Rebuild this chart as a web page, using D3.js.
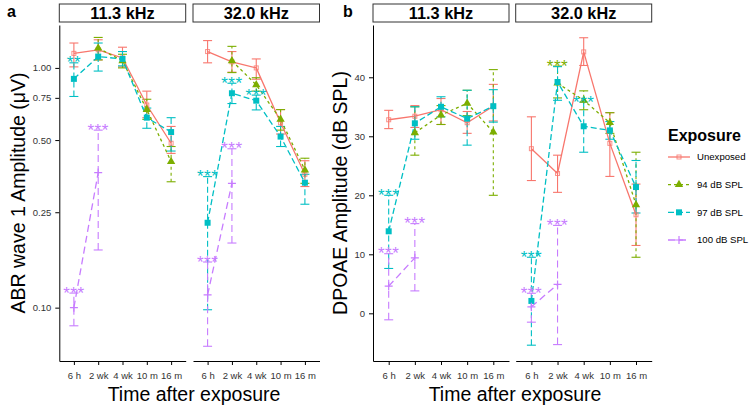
<!DOCTYPE html>
<html><head><meta charset="utf-8">
<script src="https://cdn.jsdelivr.net/npm/d3@7"></script>
<style>body{margin:0;background:#fff;} svg text{font-family:"Liberation Sans",Arial,Helvetica,sans-serif;}</style>
</head><body><svg id="c" width="749" height="407"></svg>
<script>
const times = ["6 h","2 wk","4 wk","10 m","16 m"];
const exposures = ["Unexposed","94 dB SPL","97 dB SPL","100 dB SPL"];
const frequencies = ["11.3 kHz","32.0 kHz"];
const abrTicks = [0.10,0.25,0.50,0.75,1.00];
const dpoaeTicks = [0,10,20,30,40];

// [mean, lower, upper] per time point; null = not measured
const abr11Unexposed = [[1.15,1.01,1.27],[1.19,1.08,1.31],[1.10,1.01,1.22],[0.70,0.62,0.80],[0.485,0.44,0.57]];
const abr11Db94      = [null,[1.21,1.08,1.34],[1.07,1.00,1.14],[0.67,0.61,0.74],[0.407,0.335,0.47]];
const abr11Db97      = [[0.90,0.76,1.05],[1.115,0.97,1.27],[1.09,1.02,1.17],[0.62,0.56,0.68],[0.54,0.45,0.62]];
const abr11Db100     = [[0.10,0.084,0.115],[0.366,0.174,0.55],null,null,null];

const abr32Unexposed = [[1.17,1.05,1.30],[1.06,0.96,1.17],[1.00,0.897,1.09],[0.59,0.53,0.67],[0.36,0.32,0.41]];
const abr32Db94      = [null,[1.07,0.956,1.23],[0.85,0.80,0.91],[0.61,0.55,0.67],[0.375,0.33,0.42]];
const abr32Db97      = [[0.226,0.098,0.352],[0.784,0.71,0.863],[0.73,0.668,0.77],[0.517,0.47,0.57],[0.332,0.27,0.36]];
const abr32Db100     = [[0.113,0.069,0.155],[0.33,0.186,0.46],null,null,null];

const dp11Unexposed = [[32.8,31.3,34.4],[33.4,31.5,35.2],[34.5,32.0,36.4],[32.3,30.5,34.2],[35.1,32.6,38.8]];
const dp11Db94      = [null,[30.6,26.8,35.0],[33.6,32.0,35.2],[35.6,33.5,37.8],[30.7,20.0,41.3]];
const dp11Db97      = [[13.9,7.6,20.0],[32.2,29.5,35.0],[35.0,33.3,36.7],[33.0,28.5,37.8],[35.1,32.4,37.9]];
const dp11Db100     = [[4.6,-1.1,10.1],[9.4,3.8,15.2],null,null,null];

const dp32Unexposed = [[27.9,22.5,33.3],[23.7,20.5,26.8],[44.3,42.0,46.7],[28.8,23.2,34.0],[16.7,11.5,21.9]];
const dp32Db94      = [null,[39.0,36.5,41.9],[36.1,34.5,37.7],[32.3,30.5,34.0],[18.4,9.5,27.3]];
const dp32Db97      = [[2.1,-5.4,9.5],[39.2,36.1,41.8],[31.7,27.3,35.8],[31.0,29.5,32.5],[21.4,17.0,25.9]];
const dp32Db100     = [[1.1,-1.5,3.4],[4.9,-5.3,14.9],null,null,null];

// significance markers: [exposure, time, label]
const abr11Stars = [["97 dB SPL","6 h","**"],["100 dB SPL","6 h","***"],["100 dB SPL","2 wk","***"]];
const abr32Stars = [["97 dB SPL","6 h","***"],["97 dB SPL","2 wk","***"],["97 dB SPL","4 wk","***"],["100 dB SPL","6 h","***"],["100 dB SPL","2 wk","***"]];
const dp11Stars  = [["97 dB SPL","6 h","***"],["100 dB SPL","6 h","***"],["100 dB SPL","2 wk","***"]];
const dp32Stars  = [["94 dB SPL","2 wk","***"],["97 dB SPL","6 h","***"],["97 dB SPL","4 wk","***"],["100 dB SPL","6 h","***"],["100 dB SPL","2 wk","***"]];

// ---- styles ----
const colors = d3.scaleOrdinal().domain(exposures).range(["#F8766D","#7CAE00","#00BFC4","#C77CFF"]);
const dashes = d3.scaleOrdinal().domain(exposures).range(["none","3,3","6,3","7,4"]);

const svg = d3.select("#c");
const TOP = 25, BOTTOM = 361;

const yA = d3.scaleLog().domain([0.0599,1.51]).range([BOTTOM,TOP]);
const yB = d3.scaleLinear().domain([-8.08,48.86]).range([BOTTOM,TOP]);

const panels = [
  {label:"a", lx:7, y:yA, ticks:abrTicks, fmt:d3.format(".2f"), yTitle:"ABR wave 1 Amplitude (\u03bcV)", ytx:18, xtx:194,
   facets:[{x0:59.3,x1:185.7,series:[abr11Unexposed,abr11Db94,abr11Db97,abr11Db100],stars:abr11Stars},
           {x0:193,x1:319.5,series:[abr32Unexposed,abr32Db94,abr32Db97,abr32Db100],stars:abr32Stars}]},
  {label:"b", lx:343, y:yB, ticks:dpoaeTicks, fmt:d3.format("d"), yTitle:"DPOAE Amplitude (dB SPL)", ytx:340, xtx:515,
   facets:[{x0:373,x1:509,series:[dp11Unexposed,dp11Db94,dp11Db97,dp11Db100],stars:dp11Stars},
           {x0:515.7,x1:651.7,series:[dp32Unexposed,dp32Db94,dp32Db97,dp32Db100],stars:dp32Stars}]}
];

function marker(sel, name, c){
  if(name==="Unexposed"){
    sel.append("rect").attr("x",-2).attr("y",-2).attr("width",4).attr("height",4)
      .attr("fill","none").attr("stroke",c).attr("stroke-width",1).attr("opacity",0.8);
  } else if(name==="94 dB SPL"){
    sel.append("path").attr("d",d3.symbol(d3.symbolTriangle,30)()).attr("fill",c);
  } else if(name==="97 dB SPL"){
    sel.append("rect").attr("x",-3).attr("y",-3).attr("width",6).attr("height",6).attr("fill",c);
  } else {
    sel.append("path").attr("d","M-4,0H4M0,-4V4").attr("stroke",c).attr("stroke-width",1.2).attr("fill","none");
  }
}

panels.forEach(p=>{
  svg.append("text").attr("x",p.lx).attr("y",17).attr("font-size",16).attr("font-weight","bold").text(p.label);
  p.facets.forEach((f,fi)=>{
    const x = d3.scalePoint().domain(times).range([f.x0,f.x1]).padding(0.6);
    const g = svg.append("g");
    // strip
    g.append("rect").attr("x",f.x0).attr("y",4).attr("width",f.x1-f.x0).attr("height",18)
      .attr("fill","#fff").attr("stroke","#333").attr("stroke-width",1);
    g.append("text").attr("x",(f.x0+f.x1)/2).attr("y",18.8).attr("text-anchor","middle")
      .attr("font-size",16.3).attr("font-weight","bold").text(frequencies[fi]);
    // axes
    const xa = g.append("g").attr("transform",`translate(0,${BOTTOM})`)
      .call(d3.axisBottom(x).tickSize(4).tickSizeOuter(0).tickPadding(7));
    xa.selectAll("text").attr("font-size",9.5).attr("fill","#333").style("font-family","'Liberation Sans',Arial,sans-serif");
    xa.select(".domain").attr("stroke","#000");
    if(fi===0){
      const ya = g.append("g").attr("transform",`translate(${f.x0},0)`)
        .call(d3.axisLeft(p.y).tickValues(p.ticks).tickFormat(p.fmt).tickSize(4).tickSizeOuter(0).tickPadding(4));
      ya.selectAll("text").attr("font-size",9.5).attr("fill","#333").style("font-family","'Liberation Sans',Arial,sans-serif");
      ya.select(".domain").attr("stroke","#000");
    }
    // error bars
    exposures.forEach((name,si)=>{
      const c = colors(name), dash = dashes(name);
      f.series[si].forEach((d,ti)=>{
        if(!d) return;
        const cx = x(times[ti]);
        g.append("line").attr("x1",cx).attr("x2",cx).attr("y1",p.y(d[1])).attr("y2",p.y(d[2]))
          .attr("stroke",c).attr("stroke-width",1.1).attr("stroke-dasharray",dash);
        [d[1],d[2]].forEach(v=>{
          g.append("line").attr("x1",cx-4.5).attr("x2",cx+4.5).attr("y1",p.y(v)).attr("y2",p.y(v))
            .attr("stroke",c).attr("stroke-width",1.1);
        });
      });
    });
    // lines
    exposures.forEach((name,si)=>{
      const pts = f.series[si].map((d,ti)=>d?{t:times[ti],v:d[0]}:null);
      const line = d3.line().defined(d=>d!==null).x(d=>x(d.t)).y(d=>p.y(d.v));
      g.append("path").attr("d",line(pts)).attr("fill","none").attr("stroke",colors(name))
        .attr("stroke-width",1.3).attr("stroke-dasharray",dashes(name));
    });
    // points
    exposures.forEach((name,si)=>{
      f.series[si].forEach((d,ti)=>{
        if(!d) return;
        const m = g.append("g").attr("transform",`translate(${x(times[ti])},${p.y(d[0])})`);
        marker(m,name,colors(name));
      });
    });
    // stars
    f.stars.forEach(([name,t,lab])=>{
      const si = exposures.indexOf(name), ti = times.indexOf(t);
      const d = f.series[si][ti];
      g.append("text").attr("x",x(t)).attr("y",p.y(d[2])+5.5).attr("text-anchor","middle")
        .attr("font-size",17).attr("letter-spacing",0.5).attr("fill",colors(name)).text(lab);
    });
  });
  // titles
  const midY = (TOP+BOTTOM)/2;
  svg.append("text").attr("transform",`translate(${p.ytx},${midY}) rotate(-90)`).attr("text-anchor","middle")
    .attr("dy","0.35em").attr("font-size",19.5).text(p.yTitle);
  svg.append("text").attr("x",p.xtx).attr("y",401).attr("text-anchor","middle").attr("font-size",19.5).text("Time after exposure");
});

// legend
const lg = svg.append("g");
lg.append("text").attr("x",668).attr("y",141).attr("font-size",16).attr("font-weight","bold").text("Exposure");
const legY = d3.scalePoint().domain(exposures).range([157,240]);
exposures.forEach(name=>{
  const yy = legY(name);
  lg.append("line").attr("x1",668).attr("x2",690).attr("y1",yy).attr("y2",yy)
    .attr("stroke",colors(name)).attr("stroke-width",1.3).attr("stroke-dasharray",dashes(name));
  marker(lg.append("g").attr("transform",`translate(679,${yy})`),name,colors(name));
  lg.append("text").attr("x",697).attr("y",yy).attr("dy","0.35em").attr("font-size",9.6).text(name);
});
</script></body></html>
